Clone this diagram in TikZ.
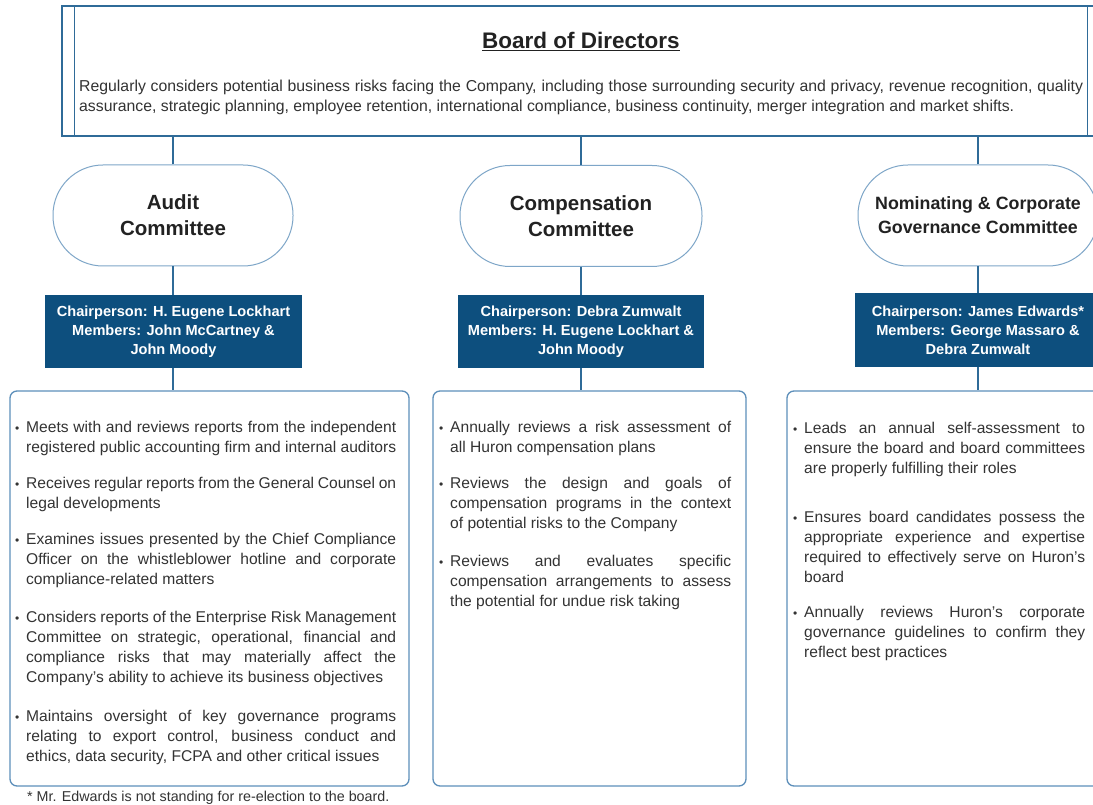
\documentclass[tikz,border=0pt]{standalone}
\usepackage{fontspec}
\setmainfont{Liberation Sans}
\usetikzlibrary{calc}
\definecolor{linec}{HTML}{2F6B98}
\definecolor{lightb}{HTML}{7EA6C8}
\definecolor{boxb}{HTML}{5D8FBA}
\definecolor{darkb}{HTML}{0D4F7E}
\definecolor{txt}{HTML}{333333}
\definecolor{head}{HTML}{222222}
\newcommand{\bul}{\llap{\makebox[11pt][l]{\fontsize{12}{12}\selectfont\textbullet}}}
\newcommand{\bitem}[1]{\noindent\bul #1}
\newcommand{\bitemf}[1]{\parfillskip=0pt\relax\noindent\bul #1}
\tikzset{
  conn/.style={draw=linec, line width=1.4pt},
  stadium/.style={draw=lightb, line width=1pt, rounded corners=50pt, minimum width=240pt, minimum height=101pt, inner sep=0pt, align=center, font=\bfseries\fontsize{20.5}{26}\selectfont, text=head},
  chair/.style={fill=darkb, minimum height=73pt, inner sep=0pt, align=center, text=white, font=\bfseries\fontsize{14.6}{19}\selectfont},
  listbox/.style={draw=boxb, line width=1.3pt, rounded corners=7pt, minimum height=395pt, inner sep=0pt},
  item/.style={anchor=base west, inner sep=0pt, align=justify, text=txt, font=\fontsize{15.6}{20}\selectfont},
}
\begin{document}
\begin{tikzpicture}[x=1pt,y=-1pt]
\clip (0,0) rectangle (1093,805);
\fill[white] (0,0) rectangle (1093,805);
% board
\node[draw=linec, line width=1.4pt, minimum width=1038pt, minimum height=130pt, inner sep=0pt] (board) at (581,71) {};
\draw[conn] ($(board.north west)+(13,0)$) -- ($(board.south west)+(13,0)$);
\draw[conn] ($(board.north east)+(-13,0)$) -- ($(board.south east)+(-13,0)$);
\node[anchor=base, inner sep=0pt, text=head, font=\bfseries\fontsize{22.5}{26}\selectfont] (title) at (581,49) {\underline{Board of Directors}};
\node[anchor=base west, inner sep=0pt, text width=1004pt, align=justify, text=txt, font=\fontsize{15.8}{20}\selectfont] (desc) at (79,92) {\parfillskip=0pt plus 1fil Regularly considers potential business risks facing the Company, including those surrounding security and privacy, revenue recognition, quality\linebreak assurance, strategic planning, employee retention, international compliance, business continuity, merger integration and market shifts.};
% committees
\node[stadium] (audit) at (173,215.5) {Audit\\Committee};
\node[stadium, minimum width=242pt] (comp) at (581,216) {Compensation\\Committee};
\node[stadium, font=\bfseries\fontsize{17.8}{24}\selectfont] (nom) at (978,215.5) {Nominating \& Corporate\\Governance Committee};
% chairs
\node[chair, minimum width=257pt] (achair) at (173.5,331.5) {Chairperson: H. Eugene Lockhart\\Members: John McCartney \&\\John Moody};
\node[chair, minimum width=246pt] (cchair) at (581,331.5) {Chairperson: Debra Zumwalt\\Members: H. Eugene Lockhart \&\\John Moody};
\node[chair, minimum width=246pt] (nchair) at (978,330) {Chairperson: James Edwards*\\Members: George Massaro \&\\Debra Zumwalt};
% list boxes
\node[listbox, minimum width=399pt] (alist) at (209.5,588.5) {};
\node[listbox, minimum width=313pt] (clist) at (589.5,588.5) {};
\node[listbox, minimum width=313pt] (nlist) at (943.5,588.5) {};
% connectors
\draw[conn] (audit.north) -- (audit.north |- board.south);
\draw[conn] (comp.north) -- (comp.north |- board.south);
\draw[conn] (nom.north) -- (nom.north |- board.south);
\draw[conn] (audit.south) -- (audit.south |- achair.north);
\draw[conn] (comp.south) -- (comp.south |- cchair.north);
\draw[conn] (nom.south) -- (nom.south |- nchair.north);
\draw[conn] (audit.south |- achair.south) -- (audit.south |- alist.north);
\draw[conn] (comp.south |- cchair.south) -- (comp.south |- clist.north);
\draw[conn] (nom.south |- nchair.south) -- (nom.south |- nlist.north);
% audit items
\node[item, text width=370pt] (a1) at (26,432) {\bitemf{Meets with and reviews reports from the independent\linebreak registered public accounting firm and internal auditors}};
\node[item, text width=370pt] (a2) at (26,488) {\bitem{Receives regular reports from the General Counsel on\linebreak legal developments}};
\node[item, text width=370pt] (a3) at (26,544) {\bitem{Examines issues presented by the Chief Compliance\linebreak Officer on the whistleblower hotline and corporate\linebreak compliance-related matters}};
\node[item, text width=370pt] (a4) at (26,622) {\bitemf{Considers reports of the Enterprise Risk Management\linebreak Committee on strategic, operational, financial and\linebreak compliance risks that may materially affect the\linebreak Company's ability to achieve its business objectives}};
\node[item, text width=370pt] (a5) at (26,721) {\bitemf{Maintains oversight of key governance programs\linebreak relating to export control, business conduct and\linebreak ethics, data security, FCPA and other critical issues}};
% comp items
\node[item, text width=281pt] (c1) at (450,432) {\bitemf{Annually reviews a risk assessment of\linebreak all Huron compensation plans}};
\node[item, text width=281pt] (c2) at (450,488) {\bitemf{Reviews the design and goals of\linebreak compensation programs in the context\linebreak of potential risks to the Company}};
\node[item, text width=281pt] (c3) at (450,566) {\bitemf{Reviews and evaluates specific\linebreak compensation arrangements to assess\linebreak the potential for undue risk taking}};
% nom items
\node[item, text width=281pt] (n1) at (804,433) {\bitemf{Leads an annual self-assessment to\linebreak ensure the board and board committees\linebreak are properly fulfilling their roles}};
\node[item, text width=281pt] (n2) at (804,522) {\bitem{Ensures board candidates possess the\linebreak appropriate experience and expertise\linebreak required to effectively serve on Huron's\linebreak board}};
\node[item, text width=281pt] (n3) at (804,617) {\bitem{Annually reviews Huron's corporate\linebreak governance guidelines to confirm they\linebreak reflect best practices}};
% footnote
\node[anchor=base west, inner sep=0pt, text=txt, font=\fontsize{14.3}{16}\selectfont] (foot) at (27,801) {* Mr. Edwards is not standing for re-election to the board.};
\end{tikzpicture}
\end{document}
